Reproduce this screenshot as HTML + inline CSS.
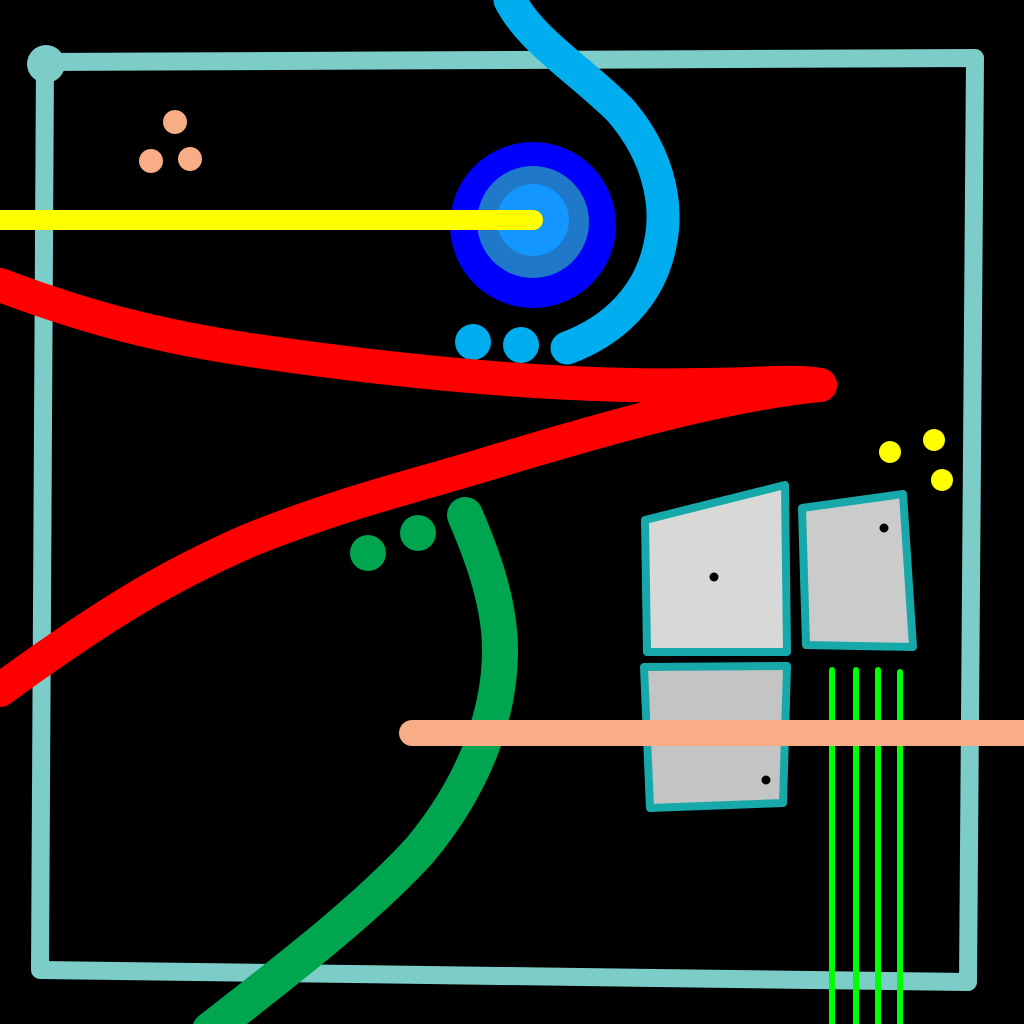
<!DOCTYPE html>
<html><head><meta charset="utf-8"><style>html,body{margin:0;padding:0;background:#000;width:1024px;height:1024px;overflow:hidden}</style></head>
<body>
<svg width="1024" height="1024" viewBox="0 0 1024 1024" xmlns="http://www.w3.org/2000/svg">
<rect width="1024" height="1024" fill="#000"/>
<polygon points="45,62 975,58 968,982 40,970" fill="none" stroke="#7ccdc8" stroke-width="18" stroke-linejoin="round"/>
<circle cx="46" cy="64" r="19" fill="#7ccdc8"/>
<circle cx="533" cy="225" r="83" fill="#0000ff"/>
<circle cx="533" cy="222" r="56" fill="#1f78c8"/>
<circle cx="533" cy="220" r="36" fill="#1496ff"/>
<line x1="0" y1="220" x2="533" y2="220" stroke="#ffff00" stroke-width="20" stroke-linecap="round"/>
<path d="M510,0 C530,40 580,70 620,110 C655,150 670,200 660,245 C650,295 615,330 567,348" fill="none" stroke="#00aeef" stroke-width="33" stroke-linecap="round"/>
<circle cx="473" cy="342" r="18" fill="#00aeef"/>
<circle cx="521" cy="345" r="18" fill="#00aeef"/>
<path d="M0,285 C80,315 150,335 250,350 C400,372 560,388 700,385 C760,385 790,380 820,385" fill="none" stroke="#ff0000" stroke-width="34" stroke-linecap="round" stroke-linejoin="round"/>
<path d="M820,385 C720,395 600,430 500,460 C420,485 350,500 250,540 C170,575 110,610 0,690" fill="none" stroke="#ff0000" stroke-width="34" stroke-linecap="round"/>
<path d="M465,515 C480,550 500,600 500,650 C500,720 470,790 420,850 C370,905 300,960 210,1030" fill="none" stroke="#00a550" stroke-width="36" stroke-linecap="round"/>
<circle cx="368" cy="553" r="18" fill="#00a550"/>
<circle cx="418" cy="533" r="18" fill="#00a550"/>
<circle cx="175" cy="122" r="12" fill="#f9ad86"/>
<circle cx="151" cy="161" r="12" fill="#f9ad86"/>
<circle cx="190" cy="159" r="12" fill="#f9ad86"/>
<circle cx="890" cy="452" r="11" fill="#ffff00"/>
<circle cx="934" cy="440" r="11" fill="#ffff00"/>
<circle cx="942" cy="480" r="11" fill="#ffff00"/>
<polygon points="645,520 785,485 787,652 647,652" fill="#d8d8d8" stroke="#17a9a9" stroke-width="8" stroke-linejoin="round"/>
<circle cx="714" cy="577" r="4.5" fill="#000"/>
<polygon points="802,508 903,494 913,647 806,645" fill="#cbcbcb" stroke="#17a9a9" stroke-width="8" stroke-linejoin="round"/>
<circle cx="884" cy="528" r="4.5" fill="#000"/>
<polygon points="644,667 787,666 783,803 650,808" fill="#c4c4c4" stroke="#17a9a9" stroke-width="8" stroke-linejoin="round"/>
<circle cx="766" cy="780" r="4.5" fill="#000"/>
<g stroke="#00ff00" stroke-width="6" stroke-linecap="round">
<line x1="832" y1="670" x2="832" y2="1030"/>
<line x1="856" y1="670" x2="856" y2="1030"/>
<line x1="878" y1="670" x2="878" y2="1030"/>
<line x1="900" y1="672" x2="900" y2="1030"/>
</g>
<line x1="412" y1="733" x2="1030" y2="733" stroke="#f9ad86" stroke-width="26" stroke-linecap="round"/>
</svg>
</body></html>
